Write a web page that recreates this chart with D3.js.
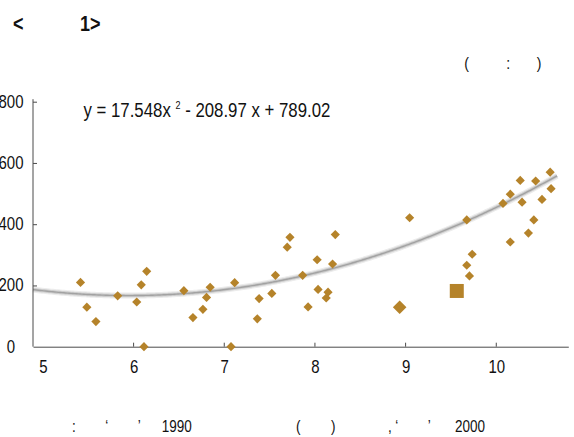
<!DOCTYPE html>
<html>
<head>
<meta charset="utf-8">
<script src="https://cdn.jsdelivr.net/npm/d3@7"></script>
<style>
  html, body { margin: 0; padding: 0; background: #ffffff; }
  svg { display: block; font-family: "Liberation Sans", Arial, sans-serif; }
</style>
</head>
<body>
<svg id="chart" width="574" height="437"></svg>
<script>
// ---- data ----
const xTicks = [5, 6, 7, 8, 9, 10];
const yTicks = [0, 200, 400, 600, 800];
const pointX = [5.42, 5.49, 5.59, 5.83, 6.04, 6.09, 6.15, 6.12, 6.56, 6.66, 6.77, 6.81, 6.85,
  7.08, 7.12, 7.37, 7.39, 7.53, 7.57, 7.70, 7.73, 7.87, 8.03, 8.04, 7.93, 8.15, 8.13, 8.20,
  8.23, 9.05, 9.68, 9.74, 9.68, 9.71, 10.08, 10.16, 10.27, 10.29, 10.16, 10.36, 10.42, 10.44,
  10.51, 10.60, 10.61];
const pointY = [210, 129, 82, 166, 146, 202, 246, 0, 183, 95, 122, 161, 194,
  0, 209, 91, 157, 174, 233, 325, 357, 233, 284, 187, 130, 178, 159, 270,
  366, 421, 414, 302, 266, 231, 468, 498, 543, 472, 342, 371, 414, 541,
  481, 570, 516];
const bigDiamondX = [8.94];
const bigDiamondY = [129];
const bigSquareX = [9.57];
const bigSquareY = [182];
const trendCoef = [17.548, -208.97, 789.02];
const trendRange = [4.896, 10.68];
const equationParts = ["y = 17.548x ", "2", " - 208.97 x + 789.02"];
const titleParts = ["<", "1>"];
const unitParts = ["(", ":", ")"];
const footerParts = [":", "\u2018", "\u2019", "1990", "(", ")", ",", "\u2018", "\u2019", "2000"];

// ---- layout ----
const svg = d3.select("#chart");
const markerColor = "#b5832a";
const axisColor = "#4a4a4a";
const vs = 1.2; // vertical stretch of text

const x = d3.scaleLinear().domain([4.896, 10.80]).range([33, 568.3]);
const y = d3.scaleLinear().domain([0, 800]).range([346.7, 101.7]);

function stretchedText(g, px, py, str, size, weight, anchor) {
  return g.append("text")
    .attr("transform", `translate(${px},${py}) scale(1,${vs})`)
    .attr("text-anchor", anchor || "start")
    .attr("font-size", size)
    .attr("font-weight", weight || "normal")
    .attr("fill", "#111")
    .text(str);
}

// title
stretchedText(svg, 13, 31, titleParts[0], 18, "bold");
stretchedText(svg, 80, 31, titleParts[1], 18, "bold");

// unit
const unitX = [466.7, 508.3, 539];
unitParts.forEach((t, i) => stretchedText(svg, unitX[i], 69, t, 14, "normal", "middle"));

// trendline
const tr = d3.range(trendRange[0], trendRange[1] + 0.001, 0.02)
  .map(v => [v, trendCoef[0] * v * v + trendCoef[1] * v + trendCoef[2]]);
const line = d3.line().x(d => x(d[0])).y(d => y(d[1])).curve(d3.curveLinear);
svg.append("path").datum(tr).attr("d", line)
  .attr("fill", "none").attr("stroke", "#ececec").attr("stroke-width", 6);
svg.append("path").datum(tr).attr("d", line)
  .attr("fill", "none").attr("stroke", "#cdcdcd").attr("stroke-width", 3.5);
svg.append("path").datum(tr).attr("d", line)
  .attr("fill", "none").attr("stroke", "#a2a2a2").attr("stroke-width", 1.4);

// axes
const xAxis = svg.append("g")
  .attr("transform", `translate(0,${y(0)})`)
  .call(d3.axisBottom(x).tickValues(xTicks).tickFormat(d3.format("d"))
    .tickSizeInner(-4).tickSizeOuter(0));
xAxis.select(".domain").attr("stroke", axisColor);
xAxis.selectAll(".tick line").attr("stroke", axisColor)
  .attr("display", d => d === 5 ? "none" : null);
xAxis.selectAll(".tick text")
  .attr("font-family", "Liberation Sans, Arial, sans-serif")
  .attr("font-size", 15).attr("fill", "#111")
  .attr("dy", null).attr("y", 26.3 / vs)
  .attr("dx", 0.5)
  .attr("transform", `scale(1,${vs})`);

const yAxis = svg.append("g")
  .attr("transform", `translate(${x.range()[0]},0)`)
  .call(d3.axisLeft(y).tickValues(yTicks).tickFormat(d3.format("d"))
    .tickSizeInner(-4).tickSizeOuter(0));
yAxis.select(".domain").attr("stroke", axisColor)
  .attr("d", `M0,${y(0)}V${y(800) - 2.5}`);
yAxis.selectAll(".tick line").attr("stroke", axisColor)
  .attr("display", d => d === 0 ? "none" : null);
yAxis.selectAll(".tick text")
  .attr("font-family", "Liberation Sans, Arial, sans-serif")
  .attr("font-size", 15).attr("fill", "#111")
  .attr("text-anchor", "middle")
  .attr("x", -22)
  .attr("dy", "0.3em")
  .attr("transform", `scale(1,${vs})`);

// equation
const eq = svg.append("text")
  .attr("transform", `translate(83.5,116.5) scale(1,${vs})`)
  .attr("font-size", 16.8).attr("fill", "#111");
eq.append("tspan").text(equationParts[0]);
eq.append("tspan").attr("font-size", 9).attr("dy", -6).text(equationParts[1]);
eq.append("tspan").attr("dy", 6).text(equationParts[2]);

// markers
const pts = pointX.map((v, i) => ({ x: v, y: pointY[i] }));
const small = d3.symbol().type(d3.symbolSquare).size(42);
svg.append("g").selectAll("path").data(pts).join("path")
  .attr("d", small)
  .attr("transform", d => `translate(${x(d.x)},${y(d.y)}) rotate(45)`)
  .attr("fill", markerColor);

const bigD = bigDiamondX.map((v, i) => ({ x: v, y: bigDiamondY[i] }));
svg.append("g").selectAll("path").data(bigD).join("path")
  .attr("d", d3.symbol().type(d3.symbolSquare).size(92))
  .attr("transform", d => `translate(${x(d.x)},${y(d.y)}) rotate(45)`)
  .attr("fill", markerColor);

const bigS = bigSquareX.map((v, i) => ({ x: v, y: bigSquareY[i] }));
svg.append("g").selectAll("path").data(bigS).join("path")
  .attr("d", d3.symbol().type(d3.symbolSquare).size(196))
  .attr("transform", d => `translate(${x(d.x)},${y(d.y)})`)
  .attr("fill", markerColor);

// footer
const footerX = [74, 106.7, 139.3, 161.7, 298.3, 333.3, 390, 396.7, 429.3, 455];
const footerAnchor = ["middle", "middle", "middle", "start", "middle", "middle", "middle", "middle", "middle", "start"];
footerParts.forEach((t, i) => stretchedText(svg, footerX[i], 432, t, 13.5, "normal", footerAnchor[i]));
</script>
</body>
</html>
